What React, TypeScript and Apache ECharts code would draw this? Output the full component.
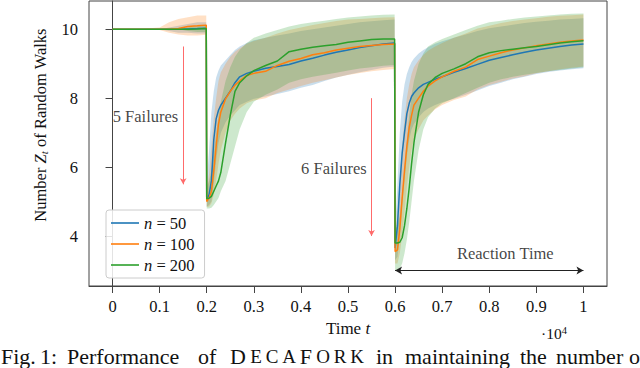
import React, { useEffect, useRef } from 'react';
import * as echarts from 'echarts';

// time points
const T = [0, 500, 1000, 1200, 1400, 1600, 1800, 1990, 2000, 2050, 2100, 2150, 2200, 2250, 2300, 2400, 2500, 2600, 2700, 2850, 3000, 3250, 3500, 3750, 4000, 4250, 4500, 4750, 5000, 5250, 5500, 5750, 5990, 6000, 6050, 6100, 6150, 6200, 6250, 6300, 6350, 6400, 6500, 6600, 6700, 6850, 7000, 7250, 7500, 7750, 8000, 8250, 8500, 8750, 9000, 9250, 9500, 9750, 10000];

// n = 50
const mean50 = [10, 10, 10, 10, 10, 10.01, 10.02, 10.03, 5.05, 5.2, 5.6, 6.8, 7.4, 7.65, 7.8, 8.0, 8.2, 8.45, 8.62, 8.72, 8.78, 8.87, 8.92, 8.98, 9.08, 9.16, 9.25, 9.33, 9.4, 9.47, 9.52, 9.57, 9.6, 3.65, 4.3, 5.5, 6.4, 7.0, 7.55, 7.85, 8.05, 8.15, 8.3, 8.4, 8.46, 8.55, 8.62, 8.75, 8.86, 8.98, 9.1, 9.18, 9.26, 9.33, 9.4, 9.45, 9.5, 9.54, 9.57];
const hi50 = [10, 10, 10, 10.05, 10.1, 10.15, 10.2, 10.2, 5.6, 6.5, 7.6, 8.2, 8.6, 8.8, 8.95, 9.1, 9.25, 9.4, 9.5, 9.6, 9.68, 9.75, 9.82, 9.88, 9.95, 10.0, 10.05, 10.1, 10.15, 10.2, 10.23, 10.26, 10.28, 4.2, 5.5, 7.0, 7.9, 8.4, 8.7, 8.9, 9.05, 9.15, 9.3, 9.4, 9.48, 9.58, 9.65, 9.75, 9.85, 9.95, 10.03, 10.08, 10.13, 10.18, 10.22, 10.25, 10.28, 10.3, 10.32];
const lo50 = [10, 10, 10, 9.95, 9.9, 9.9, 9.88, 9.88, 4.85, 4.9, 5.0, 5.5, 6.2, 6.7, 7.0, 7.3, 7.5, 7.65, 7.8, 7.9, 7.98, 8.05, 8.12, 8.2, 8.3, 8.38, 8.5, 8.6, 8.68, 8.75, 8.82, 8.88, 8.92, 3.3, 3.4, 4.0, 4.9, 5.6, 6.3, 6.8, 7.1, 7.25, 7.45, 7.6, 7.7, 7.8, 7.88, 7.98, 8.1, 8.22, 8.35, 8.45, 8.55, 8.62, 8.7, 8.76, 8.8, 8.84, 8.87];

// n = 100
const mean100 = [10, 10, 10, 10, 10.02, 10.08, 10.1, 10.12, 5.0, 5.1, 5.3, 5.9, 6.6, 7.25, 7.6, 7.98, 8.2, 8.38, 8.5, 8.66, 8.72, 8.78, 8.95, 9.07, 9.15, 9.26, 9.32, 9.4, 9.45, 9.5, 9.53, 9.56, 9.57, 3.55, 3.6, 4.2, 5.1, 5.9, 6.6, 7.15, 7.5, 7.8, 8.0, 8.2, 8.35, 8.5, 8.62, 8.78, 8.9, 9.12, 9.22, 9.32, 9.4, 9.46, 9.52, 9.57, 9.62, 9.66, 9.69];
const hi100 = [10, 10, 10.05, 10.2, 10.3, 10.35, 10.4, 10.4, 5.3, 5.8, 6.6, 7.4, 8.0, 8.5, 8.75, 9.0, 9.2, 9.35, 9.45, 9.58, 9.66, 9.75, 9.88, 9.98, 10.05, 10.12, 10.18, 10.24, 10.28, 10.3, 10.32, 10.34, 10.35, 3.9, 4.6, 5.6, 6.6, 7.4, 8.0, 8.4, 8.7, 8.9, 9.1, 9.25, 9.38, 9.5, 9.6, 9.75, 9.88, 10.02, 10.1, 10.18, 10.24, 10.28, 10.32, 10.36, 10.39, 10.41, 10.43];
const lo100 = [10, 10, 9.98, 9.9, 9.85, 9.82, 9.82, 9.84, 4.85, 4.85, 4.95, 5.2, 5.6, 6.1, 6.5, 7.0, 7.35, 7.55, 7.7, 7.85, 7.93, 8.0, 8.15, 8.25, 8.35, 8.45, 8.52, 8.6, 8.67, 8.73, 8.78, 8.82, 8.85, 3.2, 3.2, 3.5, 4.0, 4.7, 5.4, 6.0, 6.5, 6.8, 7.1, 7.35, 7.5, 7.68, 7.8, 7.95, 8.05, 8.25, 8.38, 8.48, 8.57, 8.64, 8.72, 8.78, 8.84, 8.88, 8.92];

// n = 200
const mean200 = [10, 10, 10, 10, 10, 10, 10.01, 10.02, 5.08, 5.1, 5.15, 5.3, 5.45, 5.6, 5.85, 6.7, 7.5, 8.2, 8.45, 8.65, 8.8, 8.95, 9.08, 9.35, 9.42, 9.48, 9.52, 9.56, 9.62, 9.66, 9.7, 9.72, 9.72, 3.8, 3.8, 3.82, 3.95, 4.3, 4.8, 5.4, 6.1, 6.7, 7.6, 8.1, 8.4, 8.6, 8.72, 8.85, 9.0, 9.2, 9.32, 9.38, 9.42, 9.46, 9.5, 9.55, 9.6, 9.64, 9.67];
const hi200 = [10, 10, 10, 10, 10, 10.05, 10.1, 10.12, 5.4, 5.6, 5.9, 6.4, 7.0, 7.5, 7.9, 8.5, 8.9, 9.2, 9.4, 9.6, 9.75, 9.88, 9.98, 10.08, 10.15, 10.2, 10.25, 10.3, 10.34, 10.37, 10.4, 10.42, 10.43, 4.2, 4.3, 4.6, 5.2, 6.0, 6.8, 7.5, 8.1, 8.5, 9.0, 9.3, 9.5, 9.62, 9.72, 9.85, 9.98, 10.1, 10.2, 10.25, 10.3, 10.34, 10.37, 10.4, 10.43, 10.45, 10.46];
const lo200 = [10, 10, 10, 10, 10, 9.95, 9.92, 9.92, 4.8, 4.8, 4.82, 4.9, 5.0, 5.1, 5.3, 5.6, 6.1, 6.6, 7.1, 7.6, 7.9, 8.1, 8.25, 8.45, 8.55, 8.62, 8.68, 8.74, 8.8, 8.86, 8.9, 8.94, 8.96, 3.0, 3.0, 3.05, 3.2, 3.5, 3.9, 4.4, 5.0, 5.6, 6.5, 7.1, 7.45, 7.7, 7.85, 8.0, 8.15, 8.3, 8.45, 8.55, 8.62, 8.68, 8.73, 8.78, 8.82, 8.86, 8.9];

const seriesNames = ['n = 50', 'n = 100', 'n = 200'];
const xTicks = [0, 1000, 2000, 3000, 4000, 5000, 6000, 7000, 8000, 9000, 10000];
const yTicks = [4, 6, 8, 10];

// annotations
const failureArrows = [
  [1500, 9.5, 5.5],
  [5500, 8.0, 4.0],
];
const reactionArrow = [6000, 10000, 3.0];
const annotationTexts = [
  { t: 700, v: 7.47, text: '5 Failures' },
  { t: 4700, v: 5.97, text: '6 Failures' },
  { t: 8340, v: 3.49, text: 'Reaction Time' },
];

// caption words and their left positions (layout)
const TS = '\u2009';
const captionWords: [string, number][] = [
  ['Fig.', 1],
  ['1:', 40],
  ['Performance', 67],
  ['of', 198],
  ['D' + TS + '{sc|E' + TS + 'C' + TS + 'A' + TS + '}F' + TS + '{sc|O' + TS + 'R' + TS + 'K}', 230],
  ['in', 376],
  ['maintaining', 405],
  ['the', 520],
  ['number', 556],
  ['o', 629],
];

const COLORS = ['#1f77b4', '#ff7f0e', '#2ca02c'];
const BAND = ['rgba(31,119,180,0.24)', 'rgba(255,127,14,0.24)', 'rgba(44,160,44,0.24)'];
const SERIF = 'Liberation Serif';
const INK = '#111';

const rs = (size: number, extra: any = {}) => ({ fontFamily: SERIF, fontSize: size, color: INK, fill: INK, ...extra });

export default function App() {
  const ref = useRef<HTMLDivElement>(null);
  useEffect(() => {
    document.body.style.margin = '0';
    if (!ref.current) return;
    const chart = echarts.init(ref.current, undefined, { renderer: 'svg' });
    const means = [mean50, mean100, mean200];
    const his = [hi50, hi100, hi200];
    const los = [lo50, lo100, lo200];

    const bandSeries = means.map((_, k) => ({
      type: 'custom',
      name: 'band' + k,
      z: 1,
      silent: true,
      data: [[T[0], his[k][0]]],
      encode: { x: 0, y: 1 },
      renderItem: (params: any, api: any) => {
        if (params.dataIndex !== 0) return null;
        const pts: number[][] = [];
        for (let i = 0; i < T.length; i++) pts.push(api.coord([T[i], his[k][i]]));
        for (let i = T.length - 1; i >= 0; i--) pts.push(api.coord([T[i], los[k][i]]));
        return { type: 'polygon', shape: { points: pts }, style: { fill: BAND[k] } };
      },
    }));

    const lineSeries = means.map((m, k) => ({
      type: 'line',
      name: seriesNames[k],
      z: 3,
      symbol: 'none',
      showSymbol: false,
      data: T.map((t, i) => [t, m[i]]),
      lineStyle: { color: COLORS[k], width: 1.5 },
      itemStyle: { color: COLORS[k] },
    }));

    const annotSeries = {
      type: 'scatter',
      name: 'annot',
      z: 4,
      silent: true,
      symbolSize: 0,
      data: annotationTexts.map((a) => ({ value: [a.t, a.v], name: a.text })),
      label: {
        show: true,
        position: 'inside',
        formatter: (p: any) => '{r|' + p.name + '}',
        rich: { r: rs(16.5) },
      },
      markLine: {
        silent: true,
        animation: false,
        label: { show: false },
        data: [
          ...failureArrows.map((a) => [
            { coord: [a[0], a[1]], symbol: 'none', lineStyle: { color: '#ff6b6b', width: 1, type: 'solid' } },
            { coord: [a[0], a[2]], symbol: 'arrow', symbolSize: [5, 6] },
          ]),
          [
            { coord: [reactionArrow[0], reactionArrow[2]], symbol: 'arrow', symbolSize: [6, 7], lineStyle: { color: '#222', width: 1, type: 'solid' } },
            { coord: [reactionArrow[1], reactionArrow[2]], symbol: 'arrow', symbolSize: [6, 7] },
          ],
        ],
      },
    };

    const graphics: any[] = [
      {
        type: 'text',
        x: 40,
        y: 125,
        rotation: Math.PI / 2,
        style: {
          text: '{r|Number }{i|Z}{s|t}{r| of Random Walks}',
          align: 'center',
          verticalAlign: 'middle',
          rich: {
            r: rs(16.5),
            i: rs(16.5, { fontStyle: 'italic' }),
            s: rs(11, { fontStyle: 'italic', verticalAlign: 'bottom', padding: [7, 0, 0, 0] }),
          },
        },
      },
      {
        type: 'text',
        left: 541,
        top: 325,
        style: {
          text: '{r|·10}{s|4}',
          rich: {
            r: rs(15.5),
            s: rs(10.5, { verticalAlign: 'top', padding: [0, 0, 6, 0] }),
          },
        },
      },
      ...captionWords.map(([w, x]) => ({
        type: 'text',
        left: x,
        top: 345,
        style: {
          text: '{r|' + w.replace(/\{sc\|([^}]+)\}/g, '}{sc|$1}{r|') + '}',
          rich: { r: rs(22), sc: rs(19) },
        },
      })),
    ];

    chart.setOption({
      animation: false,
      grid: { left: 89, right: 33, top: 1, bottom: 82, show: true, borderColor: '#444', borderWidth: 1, backgroundColor: 'transparent' },
      xAxis: {
        type: 'value',
        min: -500,
        max: 10500,
        splitLine: { show: false },
        axisLine: { show: true, lineStyle: { color: '#444', width: 1 } },
        axisTick: { show: true, inside: false, length: 7, lineStyle: { color: '#444' }, customValues: xTicks },
        axisLabel: {
          customValues: xTicks,
          formatter: (v: number) => '{r|' + String(Math.round(v / 1000) / 10) + '}',
          margin: 12,
          rich: { r: rs(16.5) },
        },
        name: '{r|Time }{i|t}',
        nameLocation: 'middle',
        nameGap: 34,
        nameTextStyle: {
          rich: { r: rs(17), i: rs(17, { fontStyle: 'italic' }) },
        },
      },
      yAxis: {
        type: 'value',
        min: 2.55,
        max: 10.82,
        splitLine: { show: false },
        axisLine: { show: true, lineStyle: { color: '#444', width: 1 } },
        axisTick: { show: true, inside: false, length: 7, lineStyle: { color: '#444' }, customValues: yTicks },
        axisLabel: {
          customValues: yTicks,
          formatter: (v: number) => '{r|' + v + '}',
          margin: 11,
          rich: { r: rs(16.5) },
        },
      },
      legend: {
        data: seriesNames,
        orient: 'vertical',
        left: 106,
        top: 210,
        icon: 'rect',
        itemWidth: 28,
        itemHeight: 1.6,
        itemGap: 3,
        padding: [4, 10, 4, 5],
        borderColor: '#ccc',
        borderWidth: 1,
        borderRadius: 3,
        backgroundColor: 'rgba(255,255,255,0.85)',
        formatter: (name: string) => '{i|n}{r|' + name.slice(1) + '}',
        textStyle: {
          rich: { i: rs(16.5, { fontStyle: 'italic' }), r: rs(16.5) },
          lineHeight: 18,
        },
      },
      graphic: graphics,
      series: [...bandSeries, ...lineSeries, annotSeries],
    });
    return () => chart.dispose();
  }, []);
  return <div ref={ref} style={{ width: 640, height: 368 }} />;
}
